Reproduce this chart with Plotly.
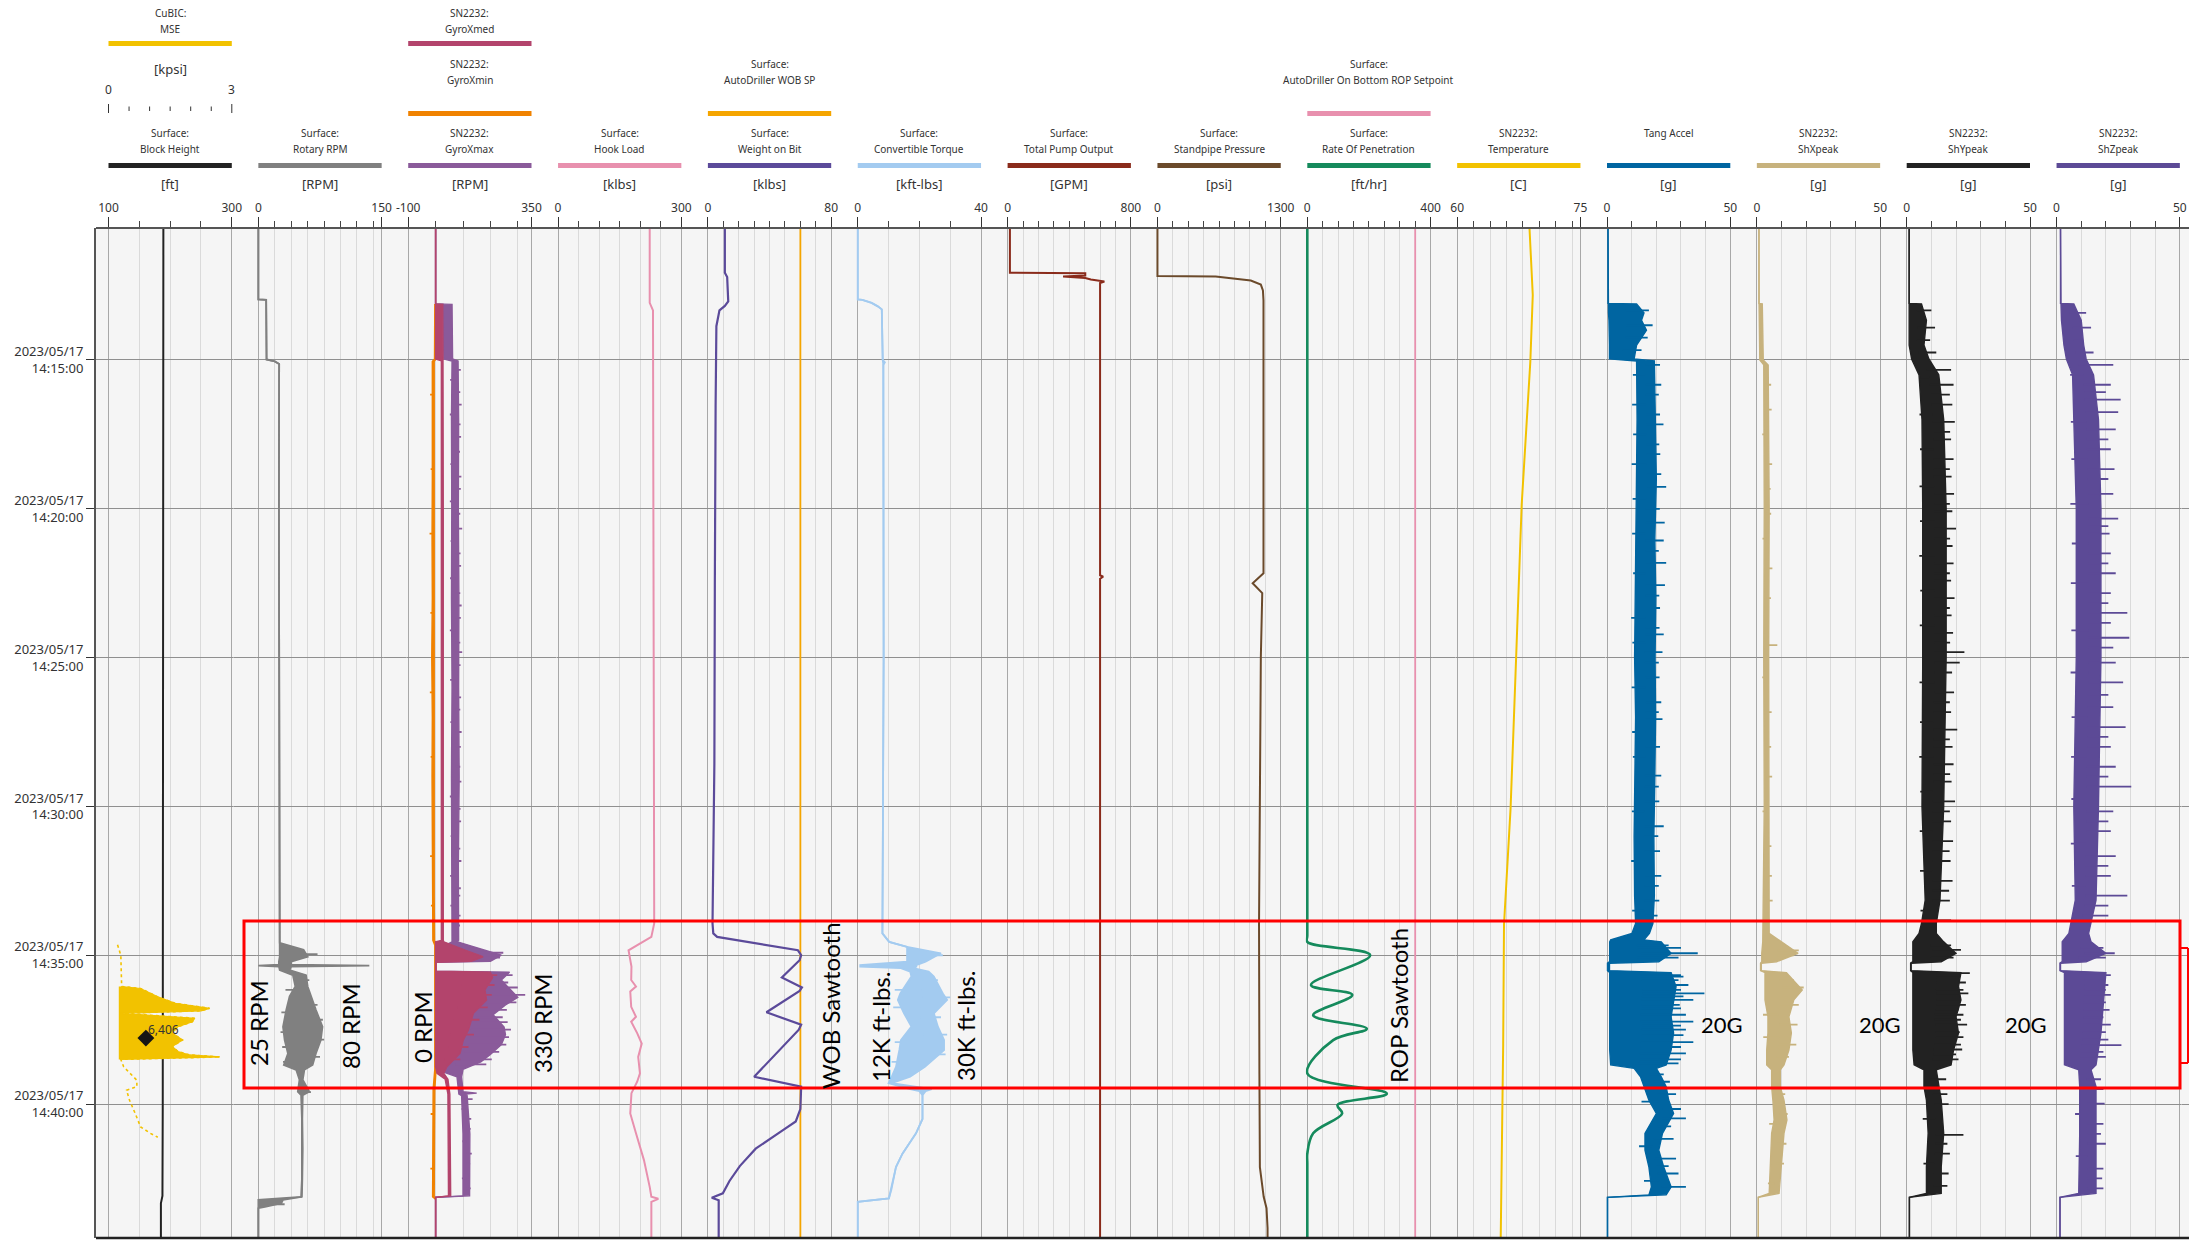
"""Drilling time log: surface + downhole tracks with sawtooth callouts."""

import numpy as np
import pandas as pd
import plotly.graph_objects as go

DAY = "2023-05-17"
T_TOP, T_BOTTOM = "14:10:34", "14:44:30"
TIME_TICKS = ["14:15:00", "14:20:00", "14:25:00", "14:30:00", "14:35:00", "14:40:00"]

# page geometry (px)
W, H = 2189, 1240
PLOT_L, PLOT_T, PLOT_B = 96, 228, 1238
TRACK_X0, TRACK_STEP, TRACK_W = 108.5, 149.85, 123.3
EDGE_PAD = 1.5   # px of room either side of a track so edge curves are not half clipped

# tracks, left to right
TRACK_SRC = ["Surface:", "Surface:", "SN2232:", "Surface:", "Surface:", "Surface:", "Surface:",
             "Surface:", "Surface:", "SN2232:", "", "SN2232:", "SN2232:", "SN2232:"]
TRACK_NAME = ["Block Height", "Rotary RPM", "GyroXmax", "Hook Load", "Weight on Bit",
              "Convertible Torque", "Total Pump Output", "Standpipe Pressure",
              "Rate Of Penetration", "Temperature", "Tang Accel", "ShXpeak", "ShYpeak", "ShZpeak"]
TRACK_UNIT = ["[ft]", "[RPM]", "[RPM]", "[klbs]", "[klbs]", "[kft-lbs]", "[GPM]", "[psi]",
              "[ft/hr]", "[C]", "[g]", "[g]", "[g]", "[g]"]
TRACK_MIN = [100, 0, -100, 0, 0, 0, 0, 0, 0, 60, 0, 0, 0, 0]
TRACK_MAX = [300, 150, 350, 300, 80, 40, 800, 1300, 400, 75, 50, 50, 50, 50]
TRACK_MINOR = [50, 20, 100, 50, 10, 10, 100, 162.5, 50, 2, 10, 10, 10, 10]
TRACK_COLOR = ["#222222", "#808080", "#8a5a9a", "#e890ae", "#5b4a9a", "#a3cbf0", "#8a2b1b",
               "#6b4a2b", "#158a5c", "#f2c200", "#0065a1", "#c7b27d", "#222222", "#5c4a96"]

MSE_COLOR, GXMED_COLOR, GXMIN_COLOR = "#f2c200", "#b3446c", "#f08200"
WOB_SP_COLOR, ROP_SP_COLOR = "#f5a500", "#e890ae"
MSE_MIN, MSE_MAX = 0, 3
MSE_TICKS = [0, 0.5, 1, 1.5, 2, 2.5, 3]

# ---------------- data ----------------
BLOCK_T = ["14:10:34", "14:34:00", "14:40:00", "14:43:05", "14:43:20", "14:44:30"]
BLOCK_V = [189, 189, 188, 187.5, 185, 185]

MSE_T = ["14:34:39", "14:35:00", "14:36:03", "14:36:07", "14:36:24", "14:36:37", "14:36:47",
         "14:36:52", "14:36:57", "14:37:07", "14:37:14", "14:37:24", "14:37:37", "14:37:51",
         "14:38:04", "14:38:14", "14:38:21", "14:38:25", "14:38:30", "14:38:45", "14:39:12",
         "14:39:25", "14:39:32", "14:39:52", "14:40:19", "14:40:46", "14:40:59", "14:41:07"]
MSE_V = [0.22, 0.30, 0.32, 0.78, 1.20, 1.62, 2.46, 2.25, 0.30, 2.10, 2.04, 1.69, 1.55, 1.80,
         1.55, 1.69, 1.97, 2.71, 0.30, 0.37, 0.69, 0.69, 0.44, 0.51, 0.65, 0.78, 1.02, 1.20]
MSE_BASE = 0.25
MSE_FILL_FROM, MSE_FILL_TO = "14:36:03", "14:38:30"
MARK_T, MARK_MSE, MARK_LABEL = "14:37:47", 0.91, "6,406"

RPM_T = ["14:10:34", "14:12:58", "14:12:59", "14:13:30", "14:14:00", "14:14:30", "14:14:59",
         "14:15:03", "14:15:08", "14:20:00", "14:25:00", "14:30:00", "14:34:35", "14:34:49",
         "14:35:03", "14:35:13", "14:35:19", "14:35:21", "14:35:23", "14:35:30", "14:35:40",
         "14:36:03", "14:36:23", "14:36:50", "14:37:24", "14:37:51", "14:38:18", "14:38:41",
         "14:38:51", "14:39:11", "14:39:35", "14:39:42", "14:40:30", "14:41:30", "14:42:30",
         "14:43:07", "14:43:13", "14:43:20", "14:43:27", "14:43:30", "14:44:30"]
RPM_LO = [0, 0, 9.5, 9.8, 10, 9.6, 10, 20, 25.3, 25, 25.2, 25, 25.5, 26, 26, 25, 25, 0, 25, 26,
          42, 45, 38, 34, 30, 32, 36, 31, 46, 50, 48, 52, 53, 53, 53, 52, 0, 0, 0, 0, 0]
RPM_HI = [0, 0, 9.5, 9.8, 10, 9.6, 10, 20, 25.3, 25, 25.2, 25, 26, 55, 60, 40, 40, 135, 40, 38,
          58, 60, 64, 70, 78, 76, 70, 66, 56, 54, 62, 54, 53.5, 54, 53.5, 53, 30, 28, 8, 0, 0]
RPM_SPIKE_T = ["14:34:58", "14:35:50", "14:36:10", "14:36:40", "14:36:55", "14:37:10",
               "14:37:35", "14:37:50", "14:38:05", "14:38:25", "14:38:35", "14:39:36",
               "14:43:22"]
RPM_SPIKE_V = [72, 62, 33, 72, 28, 78.5, 27, 80, 29, 75, 30, 64, 32]

GXMIN_T = ["14:13:07", "14:14:58", "14:15:03", "14:17:00", "14:19:00", "14:21:00",
           "14:23:00", "14:25:00", "14:27:00", "14:29:00", "14:31:00", "14:33:00", "14:34:30",
           "14:34:40", "14:38:50", "14:39:30", "14:41:00", "14:43:07", "14:43:12"]
GXMIN_LO = [-3, -4, -12, -11, -12, -13, -12, -14, -12, -13, -12, -12, -10, -3, -3, -9, -10,
            -11, 0]
GXMIN_HI = [1, 1, -5, -5, -6, -6, -5, -7, -6, -6, -5, -5, -4, 2, 2, -3, -4, -5, 0]
GXMIN_SPIKE_T = ["14:16:10", "14:18:40", "14:20:50", "14:23:30", "14:26:10", "14:28:20",
                 "14:31:40", "14:33:20", "14:40:20", "14:42:10"]
GXMIN_SPIKE_V = [-20, -18, -22, -19, -21, -18, -20, -17, -18, -19]

GXMED_T = ["14:10:34", "14:13:07", "14:13:08", "14:14:58", "14:15:02", "14:20:00", "14:25:00",
           "14:30:00", "14:34:30", "14:34:33", "14:34:50", "14:35:03", "14:35:12", "14:35:14",
           "14:35:32", "14:35:34", "14:35:45", "14:36:10", "14:36:30", "14:36:57", "14:37:30",
           "14:37:51", "14:38:18", "14:38:45", "14:38:58", "14:39:10", "14:39:40", "14:41:00",
           "14:43:05", "14:43:08", "14:44:30"]
GXMED_LO = [0, 0, 0, 0, 21, 21, 20, 21, 21, 0, 0, 0, 0, 0, 0, 0, 0, 0, 0, 0, 0, 0, 0, 0, 5, 35,
            45, 46, 47, 0, 0]
GXMED_HI = [0, 0, 26, 28, 27, 28, 27, 28, 28, 30, 110, 173, 130, 2, 2, 200, 208, 180, 186, 138,
            120, 101, 89, 41, 30, 45, 52, 54, 55, 0, 0]
GXMED_SPIKE_T = ["14:35:40", "14:36:00", "14:36:20", "14:36:45", "14:37:10", "14:37:40",
                 "14:38:05", "14:38:30"]
GXMED_SPIKE_V = [225, 215, 205, 190, 160, 140, 120, 90]

GXMAX_T = ["14:10:34", "14:13:07", "14:13:08", "14:14:58", "14:15:02", "14:17:00", "14:20:00",
           "14:23:00", "14:26:00", "14:29:00", "14:32:00", "14:34:30", "14:34:33", "14:34:50",
           "14:35:00", "14:35:12", "14:35:14", "14:35:32", "14:35:34", "14:35:50", "14:36:10",
           "14:36:25", "14:36:40", "14:37:00", "14:37:25", "14:37:40", "14:38:00", "14:38:20",
           "14:38:35", "14:38:50", "14:39:05", "14:39:35", "14:39:38", "14:39:40", "14:39:43",
           "14:41:00", "14:43:05", "14:43:08", "14:44:30"]
GXMAX_LO = [0, 0, 28, 30, 60, 58, 59, 58, 60, 58, 59, 60, 60, 0, 0, 0, 0, 0, 0, 0, 0, 0, 0, 0,
            0, 0, 0, 0, 0, 0, 78, 85, 85, 85, 95, 100, 100, 0, 0]
GXMAX_HI = [0, 0, 60, 62, 82, 84, 83, 85, 84, 86, 83, 84, 80, 180, 240, 200, 2, 2, 270, 240, 275,
            300, 255, 210, 250, 255, 240, 200, 165, 100, 95, 100, 150, 110, 115, 125, 124, 0, 0]
GXMAX_SPIKE_T = ["14:15:20", "14:15:40", "14:16:05", "14:16:30", "14:16:50", "14:17:10",
                 "14:17:35", "14:18:05", "14:18:30", "14:18:55", "14:19:20", "14:19:45",
                 "14:20:10", "14:20:40", "14:21:05", "14:21:30", "14:21:55", "14:22:20",
                 "14:22:50", "14:23:15", "14:23:40", "14:24:05", "14:24:30", "14:24:49",
                 "14:25:15", "14:25:45", "14:26:20", "14:26:45", "14:27:10", "14:27:30",
                 "14:28:00", "14:28:40", "14:29:10", "14:29:40", "14:30:05", "14:30:30",
                 "14:31:00", "14:31:25", "14:31:50", "14:32:20", "14:32:45", "14:33:00",
                 "14:33:20", "14:33:40", "14:34:00",
                 "14:34:55", "14:35:05", "14:35:40", "14:35:55", "14:36:05", "14:36:20",
                 "14:36:35", "14:36:50", "14:37:05", "14:37:15", "14:37:30", "14:37:45",
                 "14:38:00", "14:38:15", "14:38:30", "14:38:40",
                 "14:39:50", "14:40:10", "14:40:30", "14:40:50", "14:41:15", "14:41:40",
                 "14:42:00", "14:42:30", "14:42:50"]
GXMAX_SPIKE_V = [92, 53, 90, 95, 52, 91, 93, 89, 54, 94, 92, 52, 90, 97, 55, 91, 93, 53, 90, 95,
                 92, 52, 90, 97, 91, 53, 93, 90, 54, 95, 92, 90, 94, 52, 91, 93, 55, 90, 94, 53,
                 92, 90, 54, 91, 89,
                 247, 235, 281, 265, 300, 327, 295, 260, 245, 263, 275, 268, 258, 232, 205, 185,
                 135, 95, 130, 128, 98, 132, 126, 96, 128]

HOOK_T = ["14:10:34", "14:13:05", "14:13:20", "14:20:00", "14:30:00", "14:33:56", "14:34:23",
          "14:34:50", "14:35:23", "14:35:50", "14:36:03", "14:36:13", "14:36:44", "14:37:04",
          "14:37:14", "14:37:37", "14:37:58", "14:38:25", "14:38:58", "14:39:15", "14:39:38",
          "14:40:19", "14:40:59", "14:41:53", "14:42:47", "14:43:07", "14:43:11", "14:43:17",
          "14:44:30"]
HOOK_V = [223, 223, 231, 232, 233, 234, 227, 171.5, 178.6, 178, 189.6, 175.7, 178, 189.6, 178,
          192.5, 203.6, 195, 199.3, 192.5, 178.6, 175.7, 189.6, 209, 223, 227, 244, 227, 227]

WOB_SP_T = ["14:10:34", "14:44:30"]
WOB_SP_V = [60, 60]
WOB_T = ["14:10:34", "14:12:04", "14:12:13", "14:13:02", "14:13:11", "14:13:20", "14:13:52",
         "14:16:34", "14:22:34", "14:28:34", "14:33:56", "14:34:16", "14:34:23", "14:34:50",
         "14:35:00", "14:35:10", "14:35:45", "14:36:05", "14:36:12", "14:36:55", "14:37:20",
         "14:37:30", "14:39:05", "14:39:25", "14:40:10", "14:40:35", "14:40:54", "14:41:30",
         "14:42:05", "14:42:35", "14:43:00", "14:43:09", "14:43:14", "14:44:30"]
WOB_V = [11, 11, 12.5, 13.2, 11, 7.5, 5.5, 5, 4.5, 4.2, 3.0, 3.5, 6, 58.4, 60.5, 59.5, 48, 61,
         59.5, 38, 60.5, 59, 30, 60.5, 60, 57, 48, 31, 20.7, 14, 9.7, 2.5, 7, 7]

TRQ_T = ["14:10:34", "14:12:58", "14:12:59", "14:13:05", "14:13:12", "14:13:18", "14:15:00",
         "14:15:05", "14:15:10", "14:25:00", "14:34:16", "14:34:33", "14:34:43", "14:34:56",
         "14:35:13", "14:35:20", "14:35:23", "14:35:26", "14:35:33", "14:35:43", "14:36:17",
         "14:36:30", "14:36:57", "14:37:24", "14:37:51", "14:38:11", "14:38:45", "14:39:05",
         "14:39:18", "14:39:30", "14:39:34", "14:39:42", "14:40:30", "14:40:59", "14:41:40",
         "14:42:07", "14:42:53", "14:43:10", "14:43:17", "14:44:30"]
TRQ_LO = [0, 0, 1.5, 4.5, 6.5, 7.8, 8.1, 8.1, 8.3, 8.4, 8.0, 10.2, 16, 16, 16, 0.8, 0.8, 14, 17,
          17.4, 13.8, 13, 15, 17.4, 14, 13.5, 12.4, 11, 10, 17, 20, 21, 21, 18.9, 14.5, 12.4,
          10.9, 10.1, 0, 0]
TRQ_HI = [0, 0, 1.5, 4.5, 6.5, 7.8, 8.1, 8.8, 8.3, 8.4, 8.0, 10.2, 16, 27, 22, 19, 19, 18, 23,
          24.7, 27.6, 29, 24.7, 26, 28, 28, 21.8, 17, 11, 24, 22, 21, 21, 18.9, 14.5, 12.4, 10.9,
          10.1, 0, 0]
TRQ_SPIKE_T = ["14:35:00", "14:35:50", "14:36:10", "14:36:25", "14:36:45", "14:37:05",
               "14:37:40", "14:37:55", "14:38:20", "14:38:35"]
TRQ_SPIKE_V = [27.6, 26, 12, 30, 11.5, 27, 29, 12, 28.5, 11]

PUMP_T = ["14:10:34", "14:12:04", "14:12:05", "14:12:10", "14:12:12", "14:12:15", "14:12:18",
          "14:12:22", "14:12:25", "14:22:14", "14:22:17", "14:22:21", "14:44:30"]
PUMP_V = [15, 15, 504, 504, 360, 504, 540, 628, 600, 600, 620, 600, 600]

SPP_T = ["14:10:34", "14:12:11", "14:12:12", "14:12:20", "14:12:28", "14:12:40", "14:13:00",
         "14:22:10", "14:22:30", "14:22:50", "14:25:00", "14:30:00", "14:34:00", "14:39:00",
         "14:42:07", "14:43:07", "14:43:30", "14:44:10", "14:44:30"]
SPP_V = [0, 0, 614, 984, 1090, 1112, 1118, 1118, 1004, 1105, 1090, 1080, 1071, 1075, 1080, 1120,
         1150, 1161, 1161]

ROP_SP_T = ["14:10:34", "14:44:30"]
ROP_SP_V = [350, 350]
ROP_T = ["14:10:34", "14:20:00", "14:34:20", "14:34:33", "14:35:00", "14:36:00", "14:36:20",
         "14:37:01", "14:37:28", "14:37:51", "14:38:58", "14:39:39", "14:40:02", "14:40:19",
         "14:40:59", "14:41:40", "14:42:00", "14:44:30"]
ROP_V = [0, 0, 0, 0, 204, 12, 146, 19, 193, 84, 0, 258, 98, 113, 19, 0, 0, 0]

TEMP_T = ["14:10:34", "14:12:49", "14:15:04", "14:19:52", "14:25:34", "14:30:04", "14:33:58",
          "14:38:00", "14:44:30"]
TEMP_V = [68.8, 69.2, 68.9, 67.85, 67.1, 66.5, 65.7, 65.6, 65.3]

TANG_T = ["14:10:34", "14:13:06", "14:13:07", "14:13:25", "14:13:40", "14:14:00", "14:14:30",
          "14:14:58", "14:15:02", "14:17:00", "14:19:00", "14:21:00", "14:23:00", "14:25:00",
          "14:27:00", "14:29:00", "14:31:00", "14:33:00", "14:33:56", "14:34:16", "14:34:29",
          "14:34:33", "14:34:56", "14:35:13", "14:35:16", "14:35:31", "14:35:35", "14:36:03",
          "14:36:30", "14:37:04", "14:37:37", "14:38:11", "14:38:41", "14:38:48", "14:39:05",
          "14:39:25", "14:39:52", "14:40:19", "14:40:59", "14:41:33", "14:42:07", "14:42:47",
          "14:43:03", "14:43:08", "14:44:30"]
TANG_LO = [0.4, 0.4, 0.4, 0.6, 0.8, 1, 1, 1, 12.0, 12.2, 12.0, 11.8, 11.6, 11.2, 11.6, 11.4, 11.0,
           11.2, 11.6, 10.1, 1.5, 1.1, 1.1, 1.1, 0.2, 0.2, 1.1, 1.1, 1.1, 1.1, 1.1, 1.1, 1.5, 11,
           13.6, 15, 17, 20, 15.4, 15.4, 17, 18, 17, 0.2, 0.2]
TANG_HI = [0.4, 0.4, 12, 15, 14, 16, 12, 11, 19.2, 19.6, 20.0, 19.4, 19.8, 19.5, 19.7, 19.4,
           19.0, 19.2, 18.6, 17.2, 15, 22, 26, 21, 1, 1, 26, 28, 27, 26, 27, 26, 24, 20, 22, 24,
           25, 27, 22.5, 21, 23, 26, 24, 0.2, 0.2]
TANG_SPIKE_T = ["14:13:20", "14:13:50", "14:14:15", "14:14:40",
                "14:15:10", "14:15:30", "14:15:50", "14:16:10", "14:16:30", "14:16:50",
                "14:17:10", "14:17:30", "14:17:50", "14:18:10", "14:18:30", "14:18:50",
                "14:19:16", "14:19:40", "14:20:00", "14:20:28", "14:20:50", "14:21:04",
                "14:21:25", "14:21:49", "14:22:10", "14:22:34", "14:22:55", "14:23:20",
                "14:23:40", "14:24:00", "14:24:13", "14:24:30", "14:24:49", "14:25:10",
                "14:25:40", "14:26:00", "14:26:30", "14:26:50", "14:27:04", "14:27:30",
                "14:28:00", "14:28:20", "14:28:58", "14:29:20", "14:29:50", "14:30:10",
                "14:30:40", "14:31:00", "14:31:30", "14:31:50", "14:32:20", "14:32:40",
                "14:33:10", "14:33:30", "14:33:40",
                "14:34:40", "14:34:45", "14:34:56", "14:35:05", "14:35:40", "14:35:43",
                "14:35:50", "14:36:00", "14:36:10", "14:36:17", "14:36:23", "14:36:30",
                "14:36:40", "14:36:47", "14:37:00", "14:37:14", "14:37:22", "14:37:30",
                "14:37:41", "14:37:55", "14:38:05", "14:38:18", "14:38:30", "14:38:38",
                "14:39:00", "14:39:15", "14:39:40", "14:39:55", "14:40:10", "14:40:29",
                "14:40:45", "14:41:10", "14:41:25", "14:41:50", "14:42:05", "14:42:20",
                "14:42:35", "14:42:47"]
TANG_SPIKE_V = [17, 18.5, 16.5, 14,
                21.5, 10.5, 22, 21, 10.2, 21.5, 22.9, 10.6, 21.2, 21.6, 10, 22, 24, 10.4, 21.4,
                23.4, 10.2, 23, 21, 24, 10.6, 23.5, 21.2, 21.5, 9.8, 21.3, 23, 10.3, 22.5, 21,
                21.3, 10, 22, 21, 22.5, 10.2, 21.5, 10.5, 22, 21, 21.2, 10.1, 23, 20.8, 21.5, 9.8,
                22, 21, 21.2, 10.2, 20.5,
                25, 30, 36.8, 29, 30, 31, 29, 33, 30, 39.5, 31, 35, 29.5, 30, 32, 35, 30, 32, 31,
                35, 30, 32, 30, 29, 23, 25.5, 28, 14, 30, 32, 26, 27, 13, 28, 25, 29, 15, 32]

SHX_T = ["14:10:34", "14:13:06", "14:13:07", "14:15:00", "14:15:10", "14:20:00", "14:25:00",
         "14:30:00", "14:34:16", "14:34:33", "14:34:56", "14:35:13", "14:35:16", "14:35:31",
         "14:35:35", "14:36:10", "14:36:30", "14:37:04", "14:37:37", "14:38:11", "14:38:41",
         "14:38:51", "14:39:25", "14:39:52", "14:40:32", "14:40:59", "14:42:07", "14:43:00",
         "14:43:08", "14:44:30"]
SHX_LO = [0.85, 0.85, 0.9, 1.2, 2.8, 3.0, 2.8, 3.0, 2.4, 2.4, 2.0, 2.0, 1.5, 1.5, 3.3, 3.3, 3.3,
          4.5, 4.5, 4.0, 4.0, 6.0, 6.0, 6.5, 7.0, 6.0, 5.5, 5.0, 0.6, 0.6]
SHX_HI = [0.85, 0.85, 2.2, 2.6, 4.6, 5.0, 4.8, 5.0, 5.0, 10, 16.7, 8, 1.8, 1.8, 12, 18.4, 15, 13,
          14, 13, 11, 9.5, 9.5, 11, 12.2, 11, 10, 9, 0.6, 0.6]
SHX_SPIKE_T = ["14:15:50", "14:16:40", "14:17:30", "14:18:30", "14:19:20", "14:20:10",
               "14:21:00", "14:22:00", "14:23:00", "14:24:35", "14:25:40", "14:26:50",
               "14:28:00", "14:29:00", "14:30:10", "14:31:20", "14:32:20", "14:33:10",
               "14:34:50", "14:35:00", "14:35:50", "14:36:05", "14:36:40", "14:37:00",
               "14:37:20", "14:37:45", "14:38:00", "14:38:25", "14:39:40", "14:40:20",
               "14:40:40", "14:41:20", "14:42:00", "14:42:40"]
SHX_SPIKE_V = [5.8, 6, 2.2, 6.2, 5.6, 5.8, 2.3, 6.3, 5.7, 8.3, 2.2, 6, 5.8, 6.2, 2.3, 5.9, 6.1,
               6.4, 17, 15, 15, 19, 17, 2.5, 16.5, 2.6, 16, 13, 11.5, 12.5, 5, 12, 11, 4.5]

SHY_T = ["14:10:34", "14:13:06", "14:13:07", "14:13:40", "14:14:30", "14:14:58", "14:15:30",
         "14:17:00", "14:20:00", "14:25:00", "14:30:00", "14:33:09", "14:33:56", "14:34:16",
         "14:34:33", "14:34:56", "14:35:13", "14:35:16", "14:35:31", "14:35:35", "14:36:03",
         "14:36:30", "14:37:04", "14:37:37", "14:38:11", "14:38:41", "14:38:51", "14:39:25",
         "14:39:52", "14:40:59", "14:42:07", "14:43:00", "14:43:08", "14:44:30"]
SHY_LO = [1.0, 1.0, 1.0, 1.0, 1.0, 2, 5, 6.2, 6.5, 6.5, 6.2, 7.5, 6, 5, 2.5, 2.5, 2.5, 1.6, 1.6,
          2.5, 2.5, 2.5, 2.5, 2.5, 2.5, 3, 7, 7, 8, 8.7, 8, 8, 1.1, 1.1]
SHY_HI = [1.0, 1.0, 6, 8, 7, 9, 13, 15, 16, 16, 15, 13.5, 12, 12, 15, 20, 14, 1.8, 1.8,
          22, 21, 22, 20, 21, 19, 18, 12, 13, 14, 15, 14, 14, 1.1, 1.1]
SHY_SPIKE_T = ["14:13:20", "14:13:55", "14:14:20", "14:14:45",
               "14:15:20", "14:15:35", "14:15:50", "14:16:10", "14:16:30", "14:16:50",
               "14:17:05", "14:17:25", "14:17:40", "14:18:00", "14:18:20", "14:18:40",
               "14:18:55", "14:19:15", "14:19:30", "14:19:50", "14:20:05", "14:20:25",
               "14:20:40", "14:21:00", "14:21:15", "14:21:35", "14:21:50", "14:22:10",
               "14:22:25", "14:22:45", "14:23:00", "14:23:20", "14:23:35", "14:23:55",
               "14:24:10", "14:24:30", "14:24:49", "14:25:10", "14:25:30", "14:25:50",
               "14:26:10", "14:26:30", "14:26:50", "14:27:10", "14:27:25", "14:27:45",
               "14:28:00", "14:28:20", "14:28:35", "14:28:55", "14:29:10", "14:29:30",
               "14:29:50", "14:30:10", "14:30:30", "14:30:50", "14:31:10", "14:31:30",
               "14:31:50", "14:32:10", "14:32:30", "14:32:50", "14:33:10", "14:33:30",
               "14:33:50",
               "14:34:40", "14:34:49", "14:35:05", "14:35:36", "14:35:45", "14:35:55",
               "14:36:10", "14:36:17", "14:36:30", "14:36:40", "14:36:50", "14:37:00",
               "14:37:10", "14:37:20", "14:37:35", "14:37:45", "14:38:00", "14:38:10",
               "14:38:20", "14:38:30", "14:39:10", "14:39:40", "14:40:00", "14:40:30",
               "14:41:02", "14:41:20", "14:41:40", "14:42:00", "14:42:20", "14:42:45"]
SHY_SPIKE_V = [10, 11.5, 9.5, 12,
               18, 5.5, 19, 17.5, 18.5, 5.2, 19.5, 17.6, 18, 5.4, 19, 17.5, 18.2, 5.2, 19.2, 17.5,
               18.5, 5.4, 20, 17.6, 18.6, 5.1, 19, 17.5, 18, 5.5, 19.4, 17.5, 18.2, 5.3, 18.8,
               17.6, 23.4, 21.5, 18.4, 5.2, 19.2, 17.5, 18, 5.4, 20.5, 17.5, 18.6, 5.1, 19, 17.6,
               18.2, 5.5, 19.6, 17.5, 18, 5.3, 18.8, 17.4, 17.8, 5.4, 18.6, 17.2, 17.5, 5.6, 18,
               18, 22, 19, 25.6, 21, 24, 23, 25, 22, 24, 21, 23, 22, 24.5, 21.5, 23, 22, 22.5,
               20, 21, 16, 16.5, 17, 6.5, 23, 16.5, 17.5, 6.8, 17, 16.5]

SHZ_T = ["14:10:34", "14:13:06", "14:13:07", "14:13:40", "14:14:30", "14:14:58", "14:15:30",
         "14:17:00", "14:20:00", "14:25:00", "14:30:00", "14:33:09", "14:34:16", "14:34:33",
         "14:34:56", "14:35:13", "14:35:16", "14:35:31", "14:35:35", "14:36:30", "14:37:37",
         "14:38:41", "14:38:51", "14:39:25", "14:40:59", "14:43:00", "14:43:08", "14:44:30"]
SHZ_LO = [1.6, 1.6, 1.8, 2, 3, 4, 6.5, 7, 8, 8, 7, 7.6, 5, 2.3, 2.3, 2.3, 1.4, 1.4, 3.2, 3.2, 3.2,
          3.2, 9, 9.4, 9.4, 9, 1.4, 1.4]
SHZ_HI = [1.6, 1.6, 7, 10, 11, 12, 15, 17, 18, 18, 17, 16, 13, 14, 20, 12, 1.6, 1.6, 20, 19, 18,
          16, 14, 16, 16, 16, 1.4, 1.4]
SHZ_SPIKE_T = ["14:13:25", "14:13:55", "14:14:20", "14:14:45",
               "14:15:10", "14:15:30", "14:15:50", "14:16:05", "14:16:20", "14:16:45",
               "14:17:05", "14:17:20", "14:17:40", "14:18:00", "14:18:20", "14:18:40",
               "14:19:00", "14:19:30", "14:19:50", "14:20:20", "14:20:35", "14:20:50",
               "14:21:10", "14:21:30", "14:21:50", "14:22:10", "14:22:30", "14:22:50",
               "14:23:10", "14:23:30", "14:23:50", "14:24:05", "14:24:20", "14:24:40",
               "14:25:10", "14:25:30", "14:25:50", "14:26:15", "14:26:40", "14:27:00",
               "14:27:20", "14:27:40", "14:28:00", "14:28:20", "14:28:40", "14:29:00",
               "14:29:20", "14:29:45", "14:30:10", "14:30:30", "14:30:50", "14:31:15",
               "14:31:40", "14:32:00", "14:32:20", "14:32:40", "14:33:00", "14:33:20",
               "14:33:40",
               "14:34:45", "14:34:56", "14:35:05", "14:35:40", "14:35:50", "14:36:00",
               "14:36:10", "14:36:20", "14:36:35", "14:36:50", "14:37:05", "14:37:20",
               "14:37:35", "14:37:50", "14:38:01", "14:38:15", "14:38:25", "14:39:10",
               "14:39:30", "14:39:59", "14:40:20", "14:40:40", "14:41:00", "14:41:20",
               "14:41:45", "14:42:10", "14:42:30", "14:42:50"]
SHZ_SPIKE_V = [12, 14, 10, 15,
               23, 5.5, 22, 20, 26, 25, 5.8, 24, 21, 22, 6, 23.5, 21, 23, 5.6, 25, 21, 21.5,
               6.2, 22, 21, 24, 5.8, 22, 21, 28.7, 22, 6, 29.5, 23, 24, 5.7, 27, 21, 23, 6.1,
               28, 21, 22, 5.9, 24, 21, 30.3, 6, 23, 21, 22, 5.8, 24, 21, 22, 6.2, 28.7, 21, 21,
               19, 23.6, 20, 22, 19, 21, 20, 22, 20, 21.5, 19, 22, 20, 21, 26.3, 19, 20, 18,
               19, 19.5, 7.5, 19, 18, 20, 7.8, 19, 18.5, 19]

# header entries above the main row: (track, row, source, name, colour)
UPPER = [(0, "top", "CuBIC:", "MSE", MSE_COLOR),
         (2, "top", "SN2232:", "GyroXmed", GXMED_COLOR),
         (2, "mid", "SN2232:", "GyroXmin", GXMIN_COLOR),
         (4, "mid", "Surface:", "AutoDriller WOB SP", WOB_SP_COLOR),
         (8, "mid", "Surface:", "AutoDriller On Bottom ROP Setpoint", ROP_SP_COLOR)]

# callouts in the drilling window: (text, x px, y px, angle, size)
CALLOUTS = [("25 RPM", 258, 1023, -90, 24), ("80 RPM", 350, 1026, -90, 24),
            ("0 RPM", 422, 1027, -90, 24), ("330 RPM", 542, 1023, -90, 24),
            ("WOB Sawtooth", 830, 1006, -90, 24), ("12K ft-lbs.", 880, 1027, -90, 24),
            ("30K ft-lbs.", 965, 1026, -90, 24), ("ROP Sawtooth", 1398, 1006, -90, 24),
            ("20G", 1722, 1024, 0, 22), ("20G", 1880, 1024, 0, 22), ("20G", 2026, 1024, 0, 22)]
BOX = (244, 921, 2180, 1088)
BRACKET = (2181, 2188, 948, 1063)


def tt(lst):
    return [f"{DAY} {t}" for t in lst]


def pxx(x):
    return (x - PLOT_L) / (W - PLOT_L)


def pyy(y):
    return (PLOT_B - y) / (PLOT_B - PLOT_T)


def padded(mn, mx):
    d = EDGE_PAD / TRACK_W * (mx - mn)
    return [mn - d, mx + d]


fig = go.Figure()


def line(ax, t, v, color, width=1.5, shape="linear", dash="solid", **kw):
    fig.add_trace(go.Scatter(x=v, y=tt(t), xaxis=ax, yaxis="y", mode="lines",
                             line=dict(color=color, width=width, shape=shape, dash=dash),
                             hoverinfo="skip", showlegend=False, **kw))


def band(ax, t, lo, hi, color, width=1.4):
    line(ax, t, lo, color, width)
    line(ax, t, hi, color, width, fill="tonextx", fillcolor=color)


def spikes(ax, t, lo, hi, st, sv, color, width=1.8):
    tn = pd.to_datetime(tt(t)).values.astype("int64")
    sn = pd.to_datetime(tt(st)).values.astype("int64")
    mid = np.interp(sn, tn, (np.asarray(lo, float) + np.asarray(hi, float)) / 2)
    xs, ys = [], []
    for s, m, v in zip(tt(st), mid, sv):
        xs += [m, v, None]
        ys += [s, s, None]
    fig.add_trace(go.Scatter(x=xs, y=ys, xaxis=ax, yaxis="y", mode="lines",
                             line=dict(color=color, width=width),
                             hoverinfo="skip", showlegend=False))


# full-width base subplot so time grid lines run across the gaps too
fig.add_trace(go.Scatter(x=[0.5], y=tt([T_TOP]), xaxis="x", yaxis="y", mode="markers",
                         marker=dict(opacity=0), hoverinfo="skip", showlegend=False))

c = TRACK_COLOR
line("x2", BLOCK_T, BLOCK_V, c[0], 2.0)

# MSE: dotted trace, solid fill only through the drilling blobs
fill_idx = [k for k, t in enumerate(MSE_T) if MSE_FILL_FROM <= t <= MSE_FILL_TO]
fill_t = [MSE_T[k] for k in fill_idx]
line("x16", MSE_T, MSE_V, MSE_COLOR, 1.6, dash="dot")
line("x16", fill_t, [MSE_BASE] * len(fill_t), MSE_COLOR, 0)
line("x16", fill_t, [MSE_V[k] for k in fill_idx], MSE_COLOR, 1.2,
     fill="tonextx", fillcolor=MSE_COLOR)
fig.add_trace(go.Scatter(x=[MARK_MSE], y=tt([MARK_T]), xaxis="x16", yaxis="y", mode="markers",
                         marker=dict(symbol="diamond", size=13, color="#151515"),
                         hoverinfo="skip", showlegend=False))

band("x3", RPM_T, RPM_LO, RPM_HI, c[1], 1.8)
spikes("x3", RPM_T, RPM_LO, RPM_HI, RPM_SPIKE_T, RPM_SPIKE_V, c[1])

band("x4", GXMAX_T, GXMAX_LO, GXMAX_HI, c[2])
spikes("x4", GXMAX_T, GXMAX_LO, GXMAX_HI, GXMAX_SPIKE_T, GXMAX_SPIKE_V, c[2])
band("x4", GXMIN_T, GXMIN_LO, GXMIN_HI, GXMIN_COLOR)
spikes("x4", GXMIN_T, GXMIN_LO, GXMIN_HI, GXMIN_SPIKE_T, GXMIN_SPIKE_V, GXMIN_COLOR)
band("x4", GXMED_T, GXMED_LO, GXMED_HI, GXMED_COLOR)
spikes("x4", GXMED_T, GXMED_LO, GXMED_HI, GXMED_SPIKE_T, GXMED_SPIKE_V, GXMED_COLOR)

line("x5", HOOK_T, HOOK_V, c[3], 2.0)
line("x6", WOB_SP_T, WOB_SP_V, WOB_SP_COLOR, 1.8)
line("x6", WOB_T, WOB_V, c[4], 2.2)
band("x7", TRQ_T, TRQ_LO, TRQ_HI, c[5], 1.8)
spikes("x7", TRQ_T, TRQ_LO, TRQ_HI, TRQ_SPIKE_T, TRQ_SPIKE_V, c[5])
line("x8", PUMP_T, PUMP_V, c[6], 2.0)
line("x9", SPP_T, SPP_V, c[7], 2.0)
line("x10", ROP_SP_T, ROP_SP_V, ROP_SP_COLOR, 1.8)
line("x10", ROP_T, ROP_V, c[8], 2.6, shape="spline")
line("x11", TEMP_T, TEMP_V, c[9], 2.0)

band("x12", TANG_T, TANG_LO, TANG_HI, c[10])
spikes("x12", TANG_T, TANG_LO, TANG_HI, TANG_SPIKE_T, TANG_SPIKE_V, c[10])
band("x13", SHX_T, SHX_LO, SHX_HI, c[11])
spikes("x13", SHX_T, SHX_LO, SHX_HI, SHX_SPIKE_T, SHX_SPIKE_V, c[11])
band("x14", SHY_T, SHY_LO, SHY_HI, c[12])
spikes("x14", SHY_T, SHY_LO, SHY_HI, SHY_SPIKE_T, SHY_SPIKE_V, c[12])
band("x15", SHZ_T, SHZ_LO, SHZ_HI, c[13])
spikes("x15", SHZ_T, SHZ_LO, SHZ_HI, SHZ_SPIKE_T, SHZ_SPIKE_V, c[13])

# ---------------- axes ----------------
axes = {"xaxis": dict(domain=[0, 1], range=[0, 1], visible=False, fixedrange=True)}
for i in range(14):
    x0 = TRACK_X0 + i * TRACK_STEP
    mn, mx = TRACK_MIN[i], TRACK_MAX[i]
    axes[f"xaxis{i + 2}"] = dict(
        domain=[pxx(x0 - EDGE_PAD), pxx(x0 + TRACK_W + EDGE_PAD)], range=padded(mn, mx),
        anchor="y", side="top",
        tickmode="array", tickvals=[mn, mx], ticktext=[str(mn), str(mx)],
        ticks="outside", ticklen=10, tickwidth=1, tickcolor="#333",
        tickfont=dict(size=12, color="#333"),
        showgrid=True, gridcolor="#a8a8a8", gridwidth=1, zeroline=False, showline=False,
        fixedrange=True,
        minor=dict(tickmode="linear", tick0=mn, dtick=TRACK_MINOR[i], ticks="outside",
                   ticklen=6, tickwidth=1, tickcolor="#444",
                   showgrid=True, gridcolor="#dadada", gridwidth=1),
    )
axes["xaxis16"] = dict(overlaying="x2", range=padded(MSE_MIN, MSE_MAX), visible=False,
                       anchor="y", side="top", fixedrange=True)

# ---------------- header ----------------
ann, shp = [], []


def text(s, x, y, size, color="#333", angle=0, family="Noto Sans"):
    ann.append(dict(text=s, x=pxx(x), y=pyy(y), xref="paper", yref="paper", showarrow=False,
                    xanchor="center", yanchor="middle", textangle=angle,
                    font=dict(size=size, color=color, family=family)))


def seg(x0, y0, x1, y1, color, width):
    shp.append(dict(type="line", xref="paper", yref="paper", x0=pxx(x0), x1=pxx(x1),
                    y0=pyy(y0), y1=pyy(y1), line=dict(color=color, width=width), layer="above"))


for i in range(14):
    x0 = TRACK_X0 + i * TRACK_STEP
    xc = x0 + TRACK_W / 2
    if TRACK_SRC[i]:
        text(TRACK_SRC[i], xc, 133, 10)
        text(TRACK_NAME[i], xc, 149, 10)
    else:
        text(TRACK_NAME[i], xc, 133, 10)
    seg(x0, 165.5, x0 + TRACK_W, 165.5, TRACK_COLOR[i], 5)
    text(TRACK_UNIT[i], xc, 184, 13)

for trk, row, src, name, col in UPPER:
    x0 = TRACK_X0 + trk * TRACK_STEP
    xc = x0 + TRACK_W / 2
    ys, yn, yb = (12.5, 28.5, 43.5) if row == "top" else (63.5, 80, 113.5)
    text(src, xc, ys, 10)
    text(name, xc, yn, 10)
    seg(x0, yb, x0 + TRACK_W, yb, col, 5)

# MSE scale in the header
text("[kpsi]", TRACK_X0 + TRACK_W / 2, 68.5, 13)
text(str(MSE_MIN), TRACK_X0, 89.5, 12)
text(str(MSE_MAX), TRACK_X0 + TRACK_W, 89.5, 12)
for v in MSE_TICKS:
    xt = TRACK_X0 + (v - MSE_MIN) / (MSE_MAX - MSE_MIN) * TRACK_W
    major = v in (MSE_MIN, MSE_MAX)
    seg(xt, 104 if major else 106.5, xt, 113 if major else 111, "#333", 1)

# frame
seg(PLOT_L, PLOT_T, W, PLOT_T, "#555", 2)
seg(PLOT_L, PLOT_B, W, PLOT_B, "#222", 2.5)

# marker label and callouts
text(MARK_LABEL, 163, 1029, 12)
for s, x, y, ang, size in CALLOUTS:
    text(s, x, y, size, color="#000", angle=ang, family="Lato")

bx0, by0, bx1, by1 = BOX
shp.append(dict(type="rect", xref="paper", yref="paper", x0=pxx(bx0), x1=pxx(bx1),
                y0=pyy(by1), y1=pyy(by0), line=dict(color="#ff0000", width=3), layer="above"))
k0, k1, ky0, ky1 = BRACKET
seg(k0, ky0, k1, ky0, "#ff0000", 2)
seg(k0, ky1, k1, ky1, "#ff0000", 2)
seg(k1, ky0, k1, ky1, "#ff0000", 2)

fig.update_layout(
    width=W, height=H,
    margin=dict(l=PLOT_L, r=0, t=PLOT_T, b=H - PLOT_B, autoexpand=False),
    paper_bgcolor="white", plot_bgcolor="#f5f5f5",
    showlegend=False, font=dict(family="Noto Sans", color="#333"),
    yaxis=dict(type="date", range=tt([T_BOTTOM, T_TOP]), anchor="x",
               tickmode="array", tickvals=tt(TIME_TICKS),
               ticktext=[f"2023/05/17<br>{t}" for t in TIME_TICKS],
               ticks="outside", ticklen=8, tickcolor="#333", tickfont=dict(size=13, color="#333"),
               showgrid=True, gridcolor="#8f8f8f", gridwidth=1, zeroline=False,
               showline=True, linecolor="#555", linewidth=2, fixedrange=True),
    annotations=ann, shapes=shp,
    **axes,
)

# the page body keeps its default 8px margin otherwise
fig.write_html("out.html", config={"displayModeBar": False},
               post_script="document.body.style.margin='0';document.body.style.overflow='hidden';")
